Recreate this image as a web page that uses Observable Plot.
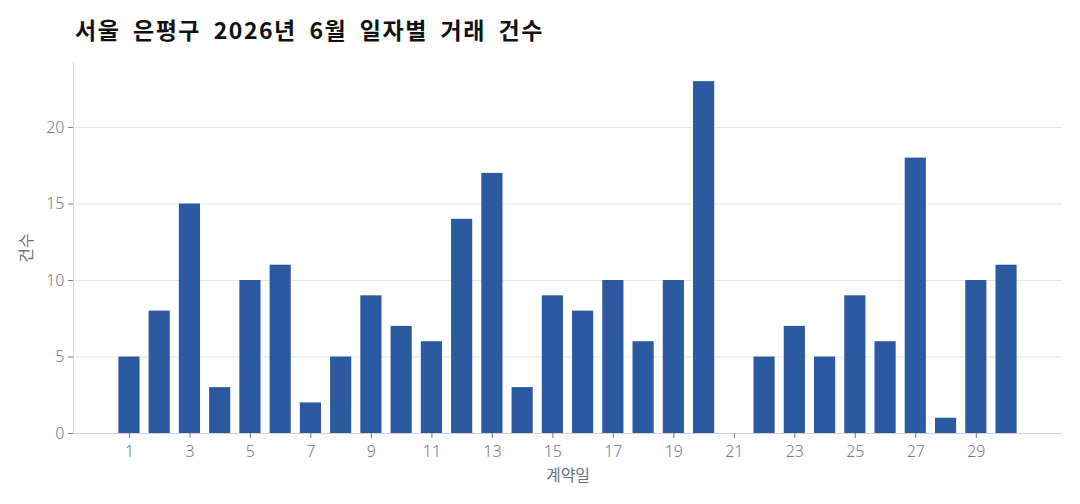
<!DOCTYPE html>
<html>
<head>
<meta charset="utf-8">
<script src="https://cdn.jsdelivr.net/npm/d3@7"></script>
<script src="https://cdn.jsdelivr.net/npm/@observablehq/plot@0.6"></script>
<style>
  body { margin: 0; background: #fff; font-family: "Noto Sans CJK KR", "Noto Sans", sans-serif; }
  #title { height: 52px; box-sizing: border-box; padding: 14px 0 0 75px; font-size: 23px; font-weight: bold; color: #111; line-height: 30px; letter-spacing: 1.5px; word-spacing: 6px; white-space: nowrap; }
  #chart svg { display: block; }
  #chart svg g[aria-label$="tick label"] text { font-size: 16px; font-family: "Noto Sans", "Noto Sans CJK KR", sans-serif; font-weight: 300; }
</style>
</head>
<body>
<div id="title">서울 은평구 2026년 6월 일자별 거래 건수</div>
<div id="chart"></div>
<script>
const days = [1,2,3,4,5,6,7,8,9,10,11,12,13,14,15,16,17,18,19,20,21,22,23,24,25,26,27,28,29,30];
const counts = [5,8,15,3,10,11,2,5,9,7,6,14,17,3,9,8,10,6,10,23,0,5,7,5,9,6,18,1,10,11];
const xTicks = [1,3,5,7,9,11,13,15,17,19,21,23,25,27,29];
const yTicks = [0,5,10,15,20];

const data = days.map((d, i) => ({day: d, count: counts[i]}));
const barColor = "#2c5aa0";
const textColor = "#737987";

const plot = Plot.plot({
  width: 1080,
  height: 452,
  marginTop: 10,
  marginBottom: 71,
  marginLeft: 73,
  marginRight: 18,
  style: {fontFamily: '"Noto Sans CJK KR", "Noto Sans", sans-serif', fontSize: "16px", color: textColor, background: "#fff"},
  x: {domain: [-0.85, 31.85]},
  y: {domain: [0, 24.25]},
  marks: [
    Plot.gridY(yTicks.filter(t => t > 0), {stroke: "#e5e7eb", strokeOpacity: 1}),
    Plot.rectY(data, {x1: d => d.day - 0.35, x2: d => d.day + 0.35, y: "count", fill: barColor}),
    Plot.ruleY([0], {stroke: "#cfd3da", strokeWidth: 1.2}),
    Plot.ruleX([-0.85], {stroke: "#cfd3da", strokeWidth: 1.2}),
    Plot.axisX({ticks: xTicks, tickFormat: d => String(d), tickSize: 5, tickPadding: 7, stroke: textColor, fill: textColor,
      fontSize: 16, fontWeight: 300, label: null}),
    Plot.axisX({ticks: [], tickSize: 0, fill: "#6b7280", fontSize: 16,
      label: "계약일", labelAnchor: "center", labelArrow: "none", labelOffset: 47}),
    Plot.axisY({ticks: yTicks, tickSize: 5, tickPadding: 4, stroke: textColor, fill: textColor,
      fontSize: 16, fontWeight: 300, label: null}),
    Plot.axisY({ticks: [], tickSize: 0, fill: "#6b7280", fontSize: 16,
      label: "건수", labelAnchor: "center", labelArrow: "none", labelOffset: 53})
  ]
});
document.getElementById("chart").appendChild(plot);
</script>
</body>
</html>
